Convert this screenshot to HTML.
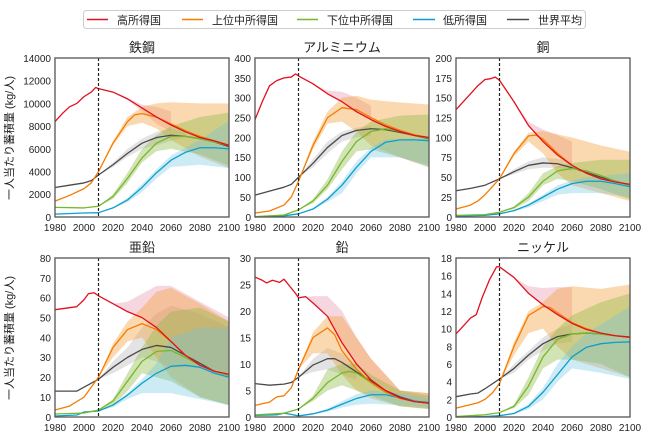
<!DOCTYPE html>
<html><head><meta charset="utf-8"><style>
body{margin:0;background:#fff;}
svg{display:block;font-family:"Liberation Sans","Noto Sans CJK JP",sans-serif;}
.t{font-size:10px;fill:#222;}
.ti{font-size:13px;fill:#222;text-anchor:middle;}
.l{fill:none;stroke-width:1.3;vector-effect:non-scaling-stroke;stroke-linejoin:round;}
.b{stroke:none;}
.fr{fill:none;stroke:#555;stroke-width:1.3;}
.dash{stroke:#222;stroke-width:1.2;stroke-dasharray:3,2;}
.R{stroke:#e3101f}.O{stroke:#f57c00}.G{stroke:#76b82a}.B{stroke:#0a9fcf}.K{stroke:#4a4a4a}
.bR{fill:#e27a96;fill-opacity:.3}.bO{fill:#f5a03a;fill-opacity:.4}.bG{fill:#8fb845;fill-opacity:.4}.bB{fill:#6cc3e3;fill-opacity:.34}.bK{fill:#9a9a9a;fill-opacity:.28}
</style></head><body>
<svg width="650" height="438" viewBox="0 0 650 438">
<rect x="83.5" y="10.5" width="502" height="18" rx="3" fill="#fff" stroke="#ccc"/>
<line x1="87" y1="19.5" x2="108" y2="19.5" stroke="#e3101f" stroke-width="1.5"/><text x="117" y="24" class="t" style="font-size:11px">高所得国</text>
<line x1="182" y1="19.5" x2="203" y2="19.5" stroke="#f57c00" stroke-width="1.5"/><text x="212" y="24" class="t" style="font-size:11px">上位中所得国</text>
<line x1="297" y1="19.5" x2="318" y2="19.5" stroke="#76b82a" stroke-width="1.5"/><text x="327" y="24" class="t" style="font-size:11px">下位中所得国</text>
<line x1="413" y1="19.5" x2="435" y2="19.5" stroke="#0a9fcf" stroke-width="1.5"/><text x="443" y="24" class="t" style="font-size:11px">低所得国</text>
<line x1="507" y1="19.5" x2="529" y2="19.5" stroke="#4a4a4a" stroke-width="1.5"/><text x="538" y="24" class="t" style="font-size:11px">世界平均</text>

<text class="t" style="font-size:11px" text-anchor="middle" transform="translate(13,138) rotate(-90)">一人当たり蓄積量 (kg/人)</text>
<text class="t" style="font-size:11px" text-anchor="middle" transform="translate(13,338) rotate(-90)">一人当たり蓄積量 (kg/人)</text>

<text class="ti" x="142" y="52">鉄鋼</text>
<text class="ti" x="342" y="52">アルミニウム</text>
<text class="ti" x="543" y="52">銅</text>
<text class="ti" x="142" y="252">亜鉛</text>
<text class="ti" x="342" y="252">鉛</text>
<text class="ti" x="543" y="252">ニッケル</text>

<g transform="translate(55,217) scale(1.45,-0.0113571) translate(-1980,0)">
<polygon class="b bK" points="2010,3700 2020,4800 2030,6000 2040,6900 2050,7500 2060,7800 2070,7500 2070,7000 2060,6700 2050,6300 2040,6000 2030,5300 2020,4400"/>
<polygon class="b bR" points="2020,11000 2030,10500 2040,9900 2050,9700 2060,9300 2060,7500 2050,8200 2040,9300 2030,10300"/>
<polygon class="b bO" points="2010,4000 2020,6700 2030,8800 2040,9700 2050,10000 2060,10100 2080,10000 2100,10000 2100,4300 2080,5300 2060,6800 2050,7800 2040,8300 2030,8000 2020,6300"/>
<polygon class="b bG" points="2010,950 2020,2000 2030,3900 2040,6000 2050,7200 2060,8000 2080,8800 2100,9200 2100,4500 2080,5500 2060,6000 2050,5800 2040,4800 2030,3000 2020,1600"/>
<polygon class="b bB" points="2010,380 2020,850 2030,1700 2040,2900 2050,4200 2060,5400 2070,6100 2085,7200 2100,8500 2100,4300 2080,4600 2060,4400 2050,3400 2040,2200 2030,1300 2020,750"/>
<polyline class="l K" points="1980,2600 1990,2800 2000,3000 2005,3200 2010,3700 2020,4600 2030,5600 2040,6500 2050,7000 2060,7200 2070,7100 2080,6900 2090,6600 2100,6200"/>
<polyline class="l B" points="1980,250 2000,350 2010,380 2020,800 2030,1500 2040,2600 2050,3900 2060,5000 2070,5700 2080,6100 2090,6100 2100,6000"/>
<polyline class="l G" points="1980,850 2000,800 2010,950 2020,1800 2030,3400 2040,5200 2050,6500 2060,7100 2070,7100 2080,6900 2090,6600 2100,6300"/>
<polyline class="l O" points="1980,1400 1990,1900 2000,2500 2005,3000 2010,4000 2020,6500 2030,8400 2035,9000 2040,9100 2050,8800 2060,8200 2070,7600 2080,7100 2090,6700 2100,6350"/>
<polyline class="l R" points="1980,8400 1985,9100 1990,9700 1995,10000 2000,10600 2005,11000 2008,11400 2010,11300 2020,11000 2030,10400 2040,9600 2050,8800 2060,8100 2070,7500 2080,7000 2090,6700 2100,6300"/>
</g>
<line class="dash" x1="98.5" y1="58" x2="98.5" y2="217"/>
<rect class="fr" x="55" y="58" width="174" height="159"/>
<g class="t" text-anchor="end">
<text x="51" y="221">0</text><text x="51" y="198">2000</text><text x="51" y="175.6">4000</text><text x="51" y="153">6000</text><text x="51" y="130">8000</text><text x="51" y="107.5">10000</text><text x="51" y="84.7">12000</text><text x="51" y="62">14000</text>
</g>

<g transform="translate(255,217) scale(1.45,-0.3975) translate(-1980,0)">
<polygon class="b bK" points="2010,100 2020,145 2030,190 2040,215 2050,225 2060,230 2060,205 2050,200 2040,190 2030,160 2020,125"/>
<polygon class="b bR" points="2020,335 2030,318 2040,315 2050,300 2060,280 2060,245 2050,262 2040,288 2030,308"/>
<polygon class="b bO" points="2010,90 2020,190 2030,265 2040,300 2050,305 2060,295 2080,288 2100,283 2100,125 2080,150 2060,180 2050,215 2040,240 2030,235 2020,170"/>
<polygon class="b bG" points="2010,18 2020,45 2030,95 2040,165 2050,215 2060,240 2080,255 2100,258 2100,130 2080,150 2060,170 2050,165 2040,120 2030,70 2020,35"/>
<polygon class="b bB" points="2010,8 2020,22 2030,50 2040,90 2050,140 2060,175 2070,195 2100,200 2100,125 2080,150 2060,150 2050,110 2040,60 2030,38 2020,18"/>
<polyline class="l K" points="1980,55 1990,65 2000,75 2005,82 2010,100 2020,135 2030,175 2040,205 2050,218 2060,222 2070,220 2080,213 2090,205 2100,197"/>
<polyline class="l B" points="1980,0 2000,3 2010,8 2020,20 2030,45 2040,80 2050,125 2060,165 2070,188 2080,194 2090,194 2100,192"/>
<polyline class="l G" points="1980,1 2000,5 2010,18 2020,40 2030,80 2040,140 2050,190 2060,215 2070,222 2080,215 2090,205 2100,198"/>
<polyline class="l O" points="1980,10 1990,15 2000,30 2005,50 2010,90 2020,180 2030,250 2040,275 2050,270 2060,250 2070,232 2080,218 2090,207 2100,200"/>
<polyline class="l R" points="1980,245 1985,290 1990,330 1995,343 2000,350 2005,352 2008,360 2010,355 2020,335 2030,310 2040,290 2050,265 2060,245 2070,228 2080,215 2090,205 2100,200"/>
</g>
<line class="dash" x1="298.5" y1="58" x2="298.5" y2="217"/>
<rect class="fr" x="255" y="58" width="174" height="159"/>
<g class="t" text-anchor="end">
<text x="251" y="221">0</text><text x="251" y="201">50</text><text x="251" y="181">100</text><text x="251" y="161">150</text><text x="251" y="141.5">200</text><text x="251" y="121.5">250</text><text x="251" y="101.7">300</text><text x="251" y="82">350</text><text x="251" y="62">400</text>
</g>

<g transform="translate(456,217) scale(1.45,-0.795) translate(-1980,0)">
<polygon class="b bK" points="2010,48 2020,60 2030,70 2040,75 2050,73 2060,70 2060,58 2050,62 2040,62 2030,60 2020,54"/>
<polygon class="b bR" points="2020,145 2030,120 2040,110 2050,103 2060,95 2060,65 2050,78 2040,95 2030,114"/>
<polygon class="b bO" points="2010,48 2020,82 2030,106 2040,108 2050,104 2060,100 2080,90 2100,82 2100,20 2080,30 2060,40 2050,55 2040,80 2030,95 2020,76"/>
<polygon class="b bG" points="2010,6 2020,13 2030,30 2040,55 2050,64 2060,68 2080,72 2100,72 2100,22 2080,35 2060,45 2050,48 2040,40 2030,20 2020,10"/>
<polygon class="b bB" points="2010,4 2020,9 2030,17 2040,28 2050,40 2060,46 2070,50 2100,55 2100,25 2080,30 2060,30 2050,28 2040,20 2030,12 2020,7"/>
<polyline class="l K" points="1980,33 1990,36 2000,40 2010,48 2020,57 2030,65 2040,68 2050,67 2060,62 2070,56 2080,50 2090,45 2100,40"/>
<polyline class="l B" points="1980,1 2000,2 2010,4 2020,8 2030,15 2040,25 2050,35 2060,42 2070,45 2080,45 2090,42 2100,38"/>
<polyline class="l G" points="1980,2 2000,3 2010,6 2020,12 2030,25 2040,45 2050,58 2060,61 2070,58 2080,52 2090,45 2100,40"/>
<polyline class="l O" points="1980,10 1990,15 1995,20 2000,28 2010,48 2020,80 2030,102 2035,103 2040,98 2050,80 2060,65 2070,55 2080,48 2090,44 2100,41"/>
<polyline class="l R" points="1980,135 1990,155 1995,165 2000,173 2004,174 2007,176 2010,172 2020,145 2030,115 2040,95 2050,78 2060,65 2070,55 2080,48 2090,44 2100,41"/>
</g>
<line class="dash" x1="499.5" y1="58" x2="499.5" y2="217"/>
<rect class="fr" x="456" y="58" width="174" height="159"/>
<g class="t" text-anchor="end">
<text x="452" y="221">0</text><text x="452" y="201">25</text><text x="452" y="181">50</text><text x="452" y="161">75</text><text x="452" y="141.5">100</text><text x="452" y="121.5">125</text><text x="452" y="101.7">150</text><text x="452" y="82">175</text><text x="452" y="62">200</text>
</g>

<g transform="translate(55,417) scale(1.45,-1.9875) translate(-1980,0)">
<polygon class="b bK" points="2010,19 2020,28 2030,35 2040,45 2050,52 2060,56 2080,52 2100,45 2100,20 2080,25 2060,25 2050,28 2040,30 2030,26 2020,22"/>
<polygon class="b bR" points="2015,59 2020,57 2030,58 2040,62 2050,66 2060,66 2080,58 2100,50 2100,22 2080,26 2060,38 2050,45 2040,50 2030,53"/>
<polygon class="b bO" points="2010,20 2020,37 2030,48 2040,55 2050,63 2060,65 2080,57 2100,48 2100,6 2080,10 2060,20 2050,30 2040,40 2030,38 2020,30"/>
<polygon class="b bG" points="2010,3.5 2020,9 2030,22 2040,35 2050,46 2060,53 2080,55 2100,48 2100,6 2080,10 2060,18 2050,20 2040,22 2030,13 2020,6"/>
<polygon class="b bB" points="2010,3 2020,6.5 2030,12 2040,19 2050,27 2060,40 2080,45 2100,45 2100,6 2080,9 2060,12 2050,12 2040,12 2030,9 2020,5"/>
<polyline class="l K" points="1980,13 1995,13 2000,15 2010,19 2020,25 2030,30 2040,34 2050,36 2060,35 2070,31 2080,27 2090,23 2100,21"/>
<polyline class="l B" points="1980,0.5 1995,1 2000,2.5 2010,3 2020,6 2030,11 2040,17 2050,22 2060,25.5 2070,26 2080,25 2090,22 2100,20"/>
<polyline class="l G" points="1980,1.5 2000,2 2010,3.5 2020,8 2030,18 2040,28 2050,33 2060,33.5 2070,30 2080,26 2090,23 2100,21"/>
<polyline class="l O" points="1980,3.5 1990,5.5 2000,10 2010,20 2020,35 2030,44 2040,47 2050,44 2060,38 2070,31 2080,26 2090,23 2100,21.3"/>
<polyline class="l R" points="1980,54 1990,55 1995,55.5 2000,59 2003,62 2007,62.5 2010,61 2020,57 2030,53 2040,50 2050,45 2060,38 2070,31 2080,26 2090,23 2100,21.5"/>
</g>
<line class="dash" x1="98.5" y1="258" x2="98.5" y2="417"/>
<rect class="fr" x="55" y="258" width="174" height="159"/>
<g class="t" text-anchor="end">
<text x="51" y="421">0</text><text x="51" y="401">10</text><text x="51" y="381">20</text><text x="51" y="361">30</text><text x="51" y="341.5">40</text><text x="51" y="321.5">50</text><text x="51" y="301.7">60</text><text x="51" y="282">70</text><text x="51" y="262">80</text>
</g>

<g transform="translate(255,417) scale(1.45,-5.3) translate(-1980,0)">
<polygon class="b bK" points="2010,7.5 2020,11 2030,13 2040,12 2050,10 2050,7 2040,8 2030,9 2020,8.5"/>
<polygon class="b bR" points="2015,22.7 2020,22.8 2030,22.8 2040,20 2050,15 2060,11 2080,5 2100,4.5 2100,2.6 2080,3.6 2060,7 2050,10 2040,14 2030,19 2020,21.5"/>
<polygon class="b bO" points="2010,9 2020,16 2030,19 2040,19 2050,15 2060,11 2080,5 2100,4.5 2100,1.5 2080,2 2060,3.5 2050,5 2040,8 2030,12 2020,12"/>
<polygon class="b bG" points="2010,1.5 2020,4 2030,9 2040,10 2050,10 2060,8 2080,5 2100,4 2100,1.5 2080,2 2060,4 2050,5 2040,6 2030,5 2020,3"/>
<polygon class="b bB" points="2010,0.2 2020,0.7 2030,1.6 2040,3 2050,4.3 2060,5 2080,4.5 2100,3.5 2100,1.7 2080,2.2 2060,2.5 2050,2.3 2040,1.8 2030,1 2020,0.5"/>
<polyline class="l K" points="1980,6.3 1990,6 2000,6.2 2005,6.5 2010,7.5 2020,9.8 2030,11 2035,11 2040,10.3 2050,8.5 2060,6.8 2070,5 2080,3.8 2090,3 2100,2.7"/>
<polyline class="l B" points="1980,0.3 1995,0.4 2000,0.7 2005,0.5 2010,0.2 2020,0.6 2030,1.3 2040,2.4 2050,3.5 2060,4.2 2070,4.2 2080,3.6 2090,3 2100,2.6"/>
<polyline class="l G" points="1980,0.4 2000,0.7 2010,1.5 2020,3.5 2030,6.5 2040,8.3 2045,8.6 2050,8.3 2060,6.5 2070,4.7 2080,3.5 2090,2.9 2100,2.6"/>
<polyline class="l O" points="1980,2.2 1990,2.8 1995,3.8 2000,4 2005,5.5 2010,9 2020,15 2030,16.8 2035,15.5 2040,12.5 2050,9 2060,6.5 2070,4.7 2080,3.5 2090,2.9 2100,2.6"/>
<polyline class="l R" points="1980,26.4 1985,25.8 1988,25.3 1992,25.8 1997,25.4 2000,26 2003,25 2008,23.3 2010,22.5 2015,22.7 2020,21.5 2030,19 2040,14 2050,10 2060,7 2070,5 2080,3.6 2090,2.9 2100,2.6"/>
</g>
<line class="dash" x1="298.5" y1="258" x2="298.5" y2="417"/>
<rect class="fr" x="255" y="258" width="174" height="159"/>
<g class="t" text-anchor="end">
<text x="251" y="421">0</text><text x="251" y="394.5">5</text><text x="251" y="368">10</text><text x="251" y="341.5">15</text><text x="251" y="315">20</text><text x="251" y="288.5">25</text><text x="251" y="262">30</text>
</g>

<g transform="translate(456,417) scale(1.45,-8.8333) translate(-1980,0)">
<polygon class="b bK" points="2010,4.3 2020,6 2030,7.5 2040,9 2050,10 2060,10.5 2060,8.5 2050,8.3 2040,7.5 2030,6.5 2020,5"/>
<polygon class="b bR" points="2020,15.8 2030,14.8 2040,14.6 2050,14.7 2060,14.7 2060,10.6 2050,11.6 2040,12.7 2030,14"/>
<polygon class="b bO" points="2010,3.8 2020,8.5 2030,12 2040,13 2050,14.5 2060,14.8 2080,14.5 2100,15 2100,4.5 2080,5.5 2060,6.5 2050,8 2040,10 2030,9.5 2020,7"/>
<polygon class="b bG" points="2010,0.5 2020,1.4 2030,4.5 2040,8 2050,10 2060,11.5 2080,13 2100,14 2100,4.5 2080,6 2060,6.5 2050,6.5 2040,5.5 2030,2.5 2020,1"/>
<polygon class="b bB" points="2010,0.15 2020,0.5 2030,1.5 2040,3.3 2050,6 2060,8 2070,9.5 2100,12.5 2100,4.3 2080,5 2060,5.5 2050,4 2040,2 2030,0.9 2020,0.3"/>
<polyline class="l K" points="1980,2.3 1990,2.6 1995,2.7 2000,3.2 2010,4.3 2020,5.5 2030,7 2040,8.3 2050,9.1 2060,9.4 2070,9.5 2080,9.4 2090,9.2 2100,9"/>
<polyline class="l B" points="1980,0 2000,0.05 2010,0.15 2020,0.4 2030,1.2 2040,2.8 2050,4.8 2060,6.8 2070,7.9 2080,8.3 2090,8.45 2100,8.5"/>
<polyline class="l G" points="1980,0.05 2000,0.25 2010,0.5 2020,1.2 2030,3.5 2040,6.8 2050,8.8 2060,9.4 2070,9.5 2080,9.4 2090,9.2 2100,9"/>
<polyline class="l O" points="1980,1 1990,1.4 1995,1.6 2000,2 2005,2.7 2010,3.8 2020,8 2030,11.5 2040,12.5 2045,12.4 2050,11.8 2060,10.7 2070,10 2080,9.5 2090,9.2 2100,9.05"/>
<polyline class="l R" points="1980,9.4 1985,10.3 1990,11.2 1994,11.6 1998,13.5 2003,15.5 2008,17 2010,17 2020,15.8 2030,14 2040,12.7 2050,11.6 2060,10.6 2070,9.9 2080,9.5 2090,9.2 2100,9.05"/>
</g>
<line class="dash" x1="499.5" y1="258" x2="499.5" y2="417"/>
<rect class="fr" x="456" y="258" width="174" height="159"/>
<g class="t" text-anchor="end">
<text x="452" y="421">0</text><text x="452" y="403.3">2</text><text x="452" y="385.7">4</text><text x="452" y="368">6</text><text x="452" y="350.3">8</text><text x="452" y="332.7">10</text><text x="452" y="315">12</text><text x="452" y="297.3">14</text><text x="452" y="279.7">16</text><text x="452" y="262">18</text>
</g>

<g class="t" text-anchor="middle">
<text x="55" y="231">1980</text><text x="84" y="231">2000</text><text x="113" y="231">2020</text><text x="142" y="231">2040</text><text x="171" y="231">2060</text><text x="200" y="231">2080</text><text x="229" y="231">2100</text>
<text x="255" y="231">1980</text><text x="284" y="231">2000</text><text x="313" y="231">2020</text><text x="342" y="231">2040</text><text x="371" y="231">2060</text><text x="400" y="231">2080</text><text x="429" y="231">2100</text>
<text x="456" y="231">1980</text><text x="485" y="231">2000</text><text x="514" y="231">2020</text><text x="543" y="231">2040</text><text x="572" y="231">2060</text><text x="601" y="231">2080</text><text x="630" y="231">2100</text>
<text x="55" y="431">1980</text><text x="84" y="431">2000</text><text x="113" y="431">2020</text><text x="142" y="431">2040</text><text x="171" y="431">2060</text><text x="200" y="431">2080</text><text x="229" y="431">2100</text>
<text x="255" y="431">1980</text><text x="284" y="431">2000</text><text x="313" y="431">2020</text><text x="342" y="431">2040</text><text x="371" y="431">2060</text><text x="400" y="431">2080</text><text x="429" y="431">2100</text>
<text x="456" y="431">1980</text><text x="485" y="431">2000</text><text x="514" y="431">2020</text><text x="543" y="431">2040</text><text x="572" y="431">2060</text><text x="601" y="431">2080</text><text x="630" y="431">2100</text>
</g>
</svg>
</body></html>
